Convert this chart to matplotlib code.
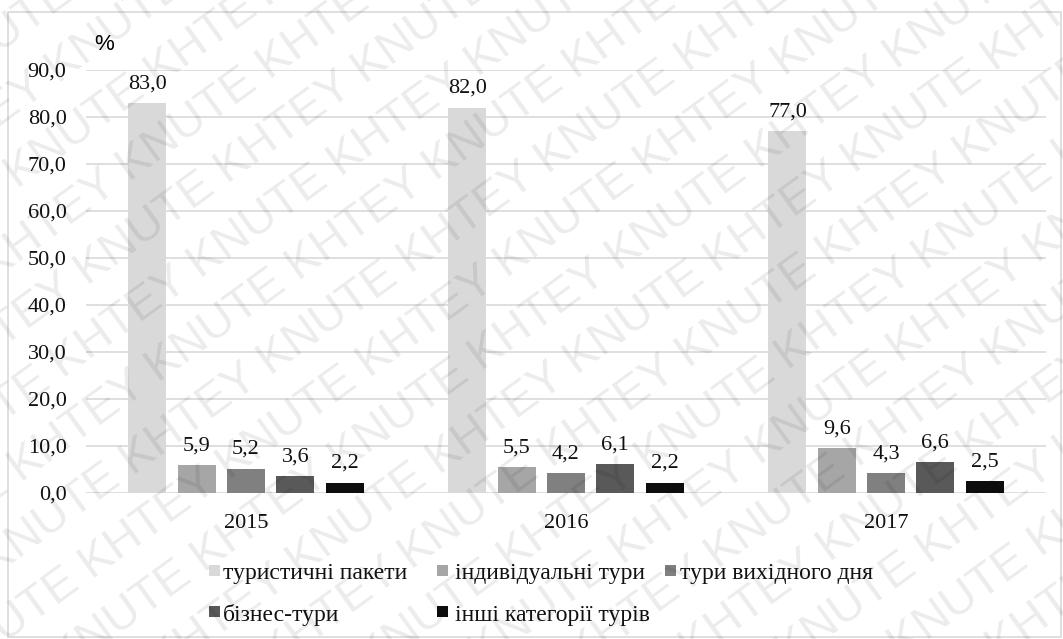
import numpy as np
import matplotlib.pyplot as plt
from matplotlib.patches import Rectangle

years = ['2015', '2016', '2017']
series = ['туристичні пакети', 'індивідуальні тури', 'тури вихідного дня',
          'бізнес-тури', 'інші категорії турів']
packages = [83.0, 82.0, 77.0]
individual = [5.9, 5.5, 9.6]
weekend = [5.2, 4.2, 4.3]
business = [3.6, 6.1, 6.6]
other = [2.2, 2.2, 2.5]
colors = ['#d9d9d9', '#a6a6a6', '#808080', '#595959', '#0d0d0d']

W, H = 1063, 639
serif = ['Liberation Serif', 'DejaVu Serif']
sans = ['Liberation Sans', 'DejaVu Sans']


def fpos(x, y):
    # pixel position (top-left origin) -> figure fraction
    return x / W, 1 - y / H


fig = plt.figure(figsize=(W / 100, H / 100), dpi=100)
fig.patch.set_facecolor('white')
fig.patches.append(Rectangle(fpos(8, 637), 1053 / W, 625 / H, transform=fig.transFigure,
                             fill=False, edgecolor='#d9d9d9', lw=1.2))

ax = fig.add_axes([86 / W, 1 - 493 / H, 960 / W, 423 / H])
x = np.arange(len(years)) + 0.5
width = 0.119
step = 0.154
values = [packages, individual, weekend, business, other]
for i, (vals, c) in enumerate(zip(values, colors)):
    xs = x + (i - 2) * step
    ax.bar(xs, vals, width, color=c, zorder=3)
    for xi, v in zip(xs, vals):
        ax.annotate(f'{v:.1f}'.replace('.', ','), (xi, v), xytext=(0, 7),
                    textcoords='offset points', ha='center', va='bottom',
                    fontsize=16, family=serif, color='#111111', zorder=4)

ax.set_xlim(0, 3)
ax.set_ylim(0, 90)
ticks = np.arange(0, 91, 10)
ax.set_yticks(ticks)
ax.set_yticklabels([f'{t:.1f}'.replace('.', ',') for t in ticks], family=serif, fontsize=16)
ax.set_xticks(x)
ax.set_xticklabels(years, family=serif, fontsize=16)
ax.tick_params(length=0, colors='#111111')
ax.tick_params(axis='y', pad=14)
ax.tick_params(axis='x', pad=15)
ax.yaxis.grid(True, color='#d9d9d9', lw=1.2, zorder=0)
for s in ax.spines.values():
    s.set_visible(False)
ax.set_facecolor('none')

fig.text(*fpos(104, 44), '%', family=sans, fontsize=16, ha='center', va='center')

# legend laid out by hand: two rows, three then two entries
leg_marker_x = [209, 437, 665, 209, 437]
leg_text_x = [223, 455, 680, 223, 455]
leg_y = [574, 574, 574, 615, 615]
for lab, c, mx, tx, ly in zip(series, colors, leg_marker_x, leg_text_x, leg_y):
    fig.patches.append(Rectangle(fpos(mx, ly + 2), 11 / W, 11 / H, transform=fig.transFigure,
                                 facecolor=c, edgecolor='none'))
    fig.text(*fpos(tx, ly), lab, family=serif, fontsize=17, ha='left', va='center',
             color='#111111')

# diagonal watermark over the whole sheet
ang = np.deg2rad(36)
u = np.array([np.cos(ang), -np.sin(ang)])
n = np.array([np.sin(ang), np.cos(ang)])
centre = np.array([W / 2, H / 2])
for k in range(-16, 17):
    p = centre + k * 60 * n - (1100 + (k % 2) * 95) * u
    fig.text(*fpos(*p), 'KHTEY KNUTE ' * 12, family=sans, fontsize=34, color='k',
             alpha=0.08, rotation=36, rotation_mode='anchor', ha='left',
             va='center', zorder=10)

fig.savefig('out.png', dpi=100)
